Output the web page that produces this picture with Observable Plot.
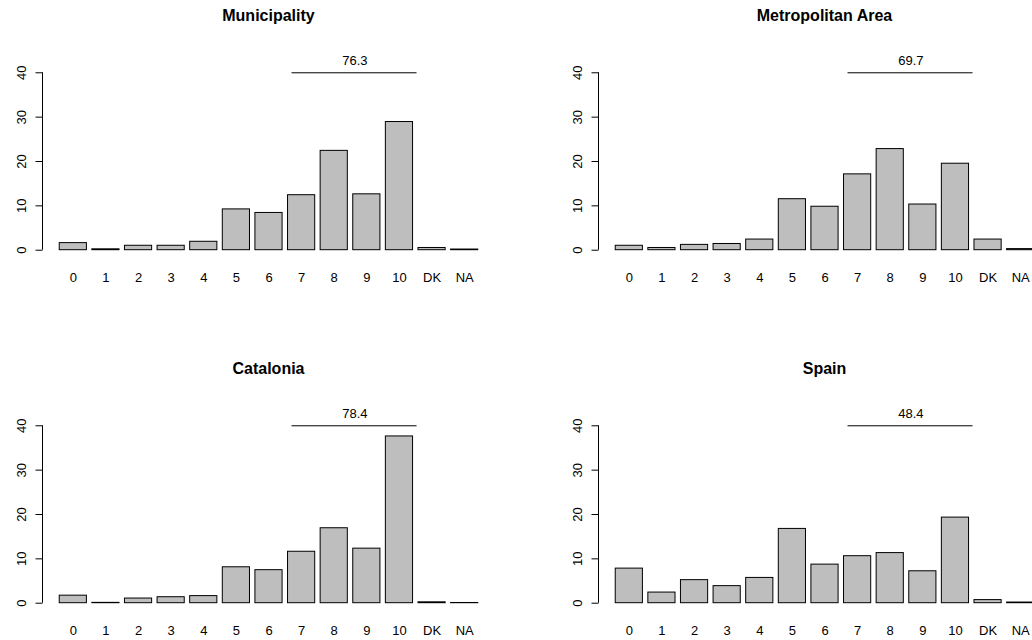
<!DOCTYPE html>
<html>
<head>
<meta charset="utf-8">
<script src="https://cdn.jsdelivr.net/npm/d3@7"></script>
<script src="https://cdn.jsdelivr.net/npm/@observablehq/plot@0.6"></script>
<style>
  html, body { margin: 0; padding: 0; background: #fff; }
  body { width: 1032px; height: 640px; overflow: hidden; position: relative; font-family: "Liberation Sans", Arial, Helvetica, sans-serif; }
  .panel { position: absolute; width: 556px; height: 353px; }
  .title { position: absolute; top: 8px; left: 42.5px; width: 452px; text-align: center; font-weight: bold; font-size: 16px; line-height: 16px; color: #000; }
  .panel svg { position: absolute; top: 40px; left: 0; }
</style>
</head>
<body>
<div id="root"></div>
<script>
// ---- data ----
const categories = ["0", "1", "2", "3", "4", "5", "6", "7", "8", "9", "10", "DK", "NA"];
const titles = ["Municipality", "Metropolitan Area", "Catalonia", "Spain"];
const municipality = [1.6, 0.2, 1.0, 1.0, 1.9, 9.2, 8.4, 12.4, 22.4, 12.6, 28.9, 0.5, 0.15];
const metropolitan = [1.0, 0.5, 1.2, 1.4, 2.4, 11.5, 9.8, 17.1, 22.8, 10.3, 19.5, 2.4, 0.25];
const catalonia = [1.7, 0.08, 1.05, 1.35, 1.6, 8.1, 7.45, 11.6, 16.9, 12.3, 37.6, 0.2, 0.05];
const spain = [7.8, 2.4, 5.2, 3.85, 5.7, 16.75, 8.7, 10.6, 11.3, 7.2, 19.3, 0.7, 0.15];
const topShares = [76.3, 69.7, 78.4, 48.4];   // share of answers 7-10
const topRange = ["7", "10"];
const yTicks = [0, 10, 20, 30, 40];

const series = [municipality, metropolitan, catalonia, spain];

const root = document.getElementById("root");
const W = 556, H = 313;
const mL = 42.5, mR = 61.5, mT = 25.2, mB = 96.2;

series.forEach((vals, k) => {
  const col = k % 2, row = Math.floor(k / 2);
  const panel = document.createElement("div");
  panel.className = "panel";
  panel.style.left = (col * 556) + "px";
  panel.style.top = (row * 353) + "px";
  const t = document.createElement("div");
  t.className = "title";
  t.textContent = titles[k];
  panel.appendChild(t);

  const data = categories.map((c, i) => ({cat: c, value: vals[i]}));

  const chart = Plot.plot({
    width: W,
    height: H,
    marginLeft: mL,
    marginRight: mR,
    marginTop: mT,
    marginBottom: mB,
    style: {fontFamily: "'Liberation Sans', Arial, Helvetica, sans-serif", fontSize: "13px", background: "transparent", color: "#000"},
    x: {type: "band", domain: categories, paddingInner: 0.2 / 1.2, paddingOuter: 0.513, round: false, axis: null},
    y: {domain: [-1.6, 41.6], axis: null},
    marks: [
      Plot.barY(data, {x: "cat", y: "value", fill: "#bebebe", stroke: "#000", strokeWidth: 1}),
      Plot.axisX({domain: categories, anchor: "bottom", tickSize: 0, tickPadding: 15, label: null, fontSize: 13}),
      Plot.axisY({ticks: yTicks, anchor: "left", tickSize: 7, tickFormat: () => "", label: null, stroke: "#000"}),
      Plot.text(yTicks, {y: d => d, text: d => String(d), frameAnchor: "left", dx: -21.5, rotate: -90, textAnchor: "middle", lineAnchor: "middle", fontSize: 13, fill: "#000"}),
      Plot.ruleY([{x1: topRange[0], x2: topRange[1], y: 40}], {x1: "x1", x2: "x2", y: "y", dx: 4, stroke: "#000", strokeWidth: 1}),
      Plot.text([{x: "9", y: 40, label: topShares[k].toFixed(1)}], {x: "x", y: "y", text: "label", dx: -12, dy: -8, lineAnchor: "bottom", fontSize: 13, fill: "#000"})
    ]
  });

  // y-axis line from 0 to 40, as in base R
  const ys = chart.scale("y");
  d3.select(chart).append("line")
    .attr("x1", mL).attr("x2", mL)
    .attr("y1", ys.apply(yTicks[0])).attr("y2", ys.apply(yTicks[yTicks.length - 1]))
    .attr("stroke", "#000").attr("stroke-width", 1);

  panel.appendChild(chart);
  root.appendChild(panel);
});
</script>
</body>
</html>
